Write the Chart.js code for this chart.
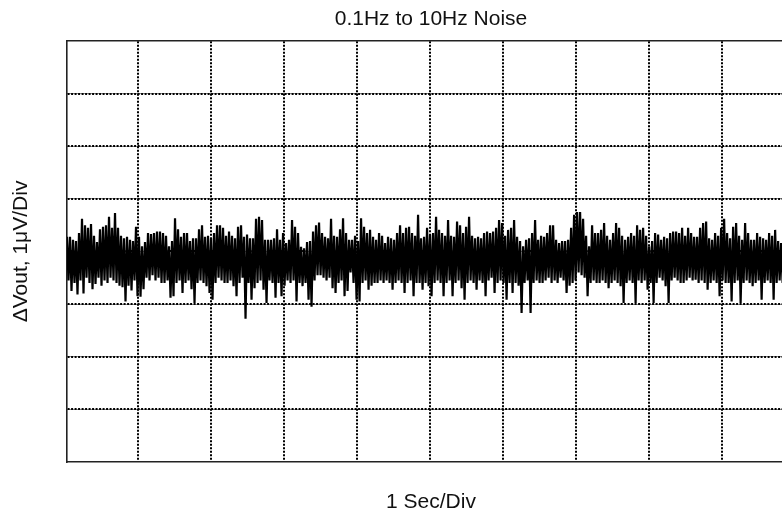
<!DOCTYPE html>
<html>
<head>
<meta charset="utf-8">
<script src="https://cdn.jsdelivr.net/npm/chart.js@4/dist/chart.umd.min.js"></script>
<style>
  html, body { margin: 0; padding: 0; background: #fff; overflow: hidden; }
  #view { width: 782px; height: 517px; overflow: hidden; position: relative; }
  #box { width: 795px; height: 517px; position: relative; }
</style>
</head>
<body>
<div id="view"><div id="box"><canvas id="noiseChart"></canvas></div></div>
<script>
const chartTitle = '0.1Hz to 10Hz Noise';
const xTitle = '1 Sec/Div';
const yTitle = '\u0394Vout, 1\u03bcV/Div';

// scope settings: 10 divisions of 1 s, 8 divisions of 1 uV
const timeMin = 0.033;
const timeMax = 10;
const voltMin = -4;
const voltMax = 4;

// trace (uV), sample spacing in seconds
const startTime = 0.033;
const sampleInterval = 0.02054;
const samples = [
  0.28,-0.55, 0.28,-0.75, 0.22,-0.6, 0.2,-0.82, 0.35,-0.55, 0.62,-0.8, 0.5,-0.5, 0.45,-0.6, 0.52,-0.72, 0.3,-0.62,
  0.18,-0.5, 0.42,-0.65, 0.47,-0.55, 0.5,-0.6, 0.66,-0.5, 0.45,-0.55, 0.73,-0.6, 0.45,-0.65, 0.3,-0.68, 0.25,-0.95,
  0.28,-0.65, 0.22,-0.74, 0.2,-0.55, 0.47,-0.85, 0.28,-0.86, 0.1,-0.72, 0.18,-0.5, 0.35,-0.55, 0.33,-0.45, 0.35,-0.55,
  0.38,-0.5, 0.38,-0.6, 0.35,-0.6, 0.3,-0.55, 0.1,-0.88, 0.2,-0.85, 0.63,-0.6, 0.42,-0.55, 0.28,-0.79, 0.35,-0.6,
  0.35,-0.55, 0.2,-0.72, 0.25,-0.98, 0.25,-0.6, 0.42,-0.55, 0.5,-0.6, 0.28,-0.66, 0.3,-0.79, 0.25,-0.92, 0.35,-0.6,
  0.5,-0.5, 0.5,-0.55, 0.45,-0.6, 0.3,-0.6, 0.38,-0.55, 0.3,-0.66, 0.25,-0.85, 0.47,-0.6, 0.5,-0.5, 0.28,-1.28,

  0.32,-0.6, 0.25,-0.92, 0.25,-0.7, 0.62,-0.6, 0.66,-0.55, 0.6,-0.73, 0.22,-0.98, 0.22,-0.55, 0.22,-0.6, 0.25,-0.88,
  0.42,-0.6, 0.22,-0.85, 0.35,-0.65, 0.16,-0.55, 0.22,-0.6, 0.6,-0.55, 0.47,-0.95, 0.35,-0.6, 0.09,-0.66, 0.06,-0.6,
  0.18,-0.92, 0.2,-1.05, 0.38,-0.55, 0.5,-0.45, 0.55,-0.45, 0.35,-0.5, 0.28,-0.55, 0.25,-0.5, 0.62,-0.7, 0.3,-0.79,
  0.28,-0.6, 0.42,-0.55, 0.63,-0.85, 0.35,-0.75, 0.22,-0.4, 0.22,-0.6, 0.3,-0.92, 0.2,-0.95, 0.63,-0.6, 0.47,-0.55,
  0.35,-0.73, 0.41,-0.65, 0.28,-0.6, 0.22,-0.6, 0.35,-0.55, 0.3,-0.6, 0.16,-0.55, 0.28,-0.6, 0.25,-0.73, 0.22,-0.6,
  0.35,-0.55, 0.5,-0.6, 0.35,-0.79, 0.45,-0.6, 0.47,-0.55, 0.35,-0.85, 0.3,-0.6, 0.7,-0.6, 0.25,-0.73, 0.28,-0.6,

  0.45,-0.66, 0.32,-0.85, 0.35,-0.6, 0.66,-0.55, 0.41,-0.6, 0.35,-0.85, 0.3,-0.6, 0.6,-0.55, 0.3,-0.85, 0.28,-0.6,
  0.57,-0.55, 0.5,-0.7, 0.35,-0.92, 0.47,-0.6, 0.66,-0.55, 0.3,-0.6, 0.25,-0.73, 0.28,-0.55, 0.25,-0.6, 0.35,-0.85,
  0.38,-0.55, 0.35,-0.5, 0.38,-0.79, 0.45,-0.6, 0.6,-0.55, 0.54,-0.6, 0.3,-0.92, 0.41,-0.6, 0.45,-0.79, 0.6,-0.6,
  0.28,-0.65, 0.2,-1.17, 0.1,-0.6, 0.22,-0.55, 0.25,-1.17, 0.35,-0.6, 0.6,-0.55, 0.22,-0.6, 0.3,-0.6, 0.28,-0.55,
  0.35,-0.5, 0.5,-0.6, 0.5,-0.55, 0.22,-0.6, 0.16,-0.5, 0.2,-0.55, 0.2,-0.79, 0.22,-0.65, 0.45,-0.6, 0.7,-0.55,
  0.75,-0.4, 0.75,-0.45, 0.62,-0.5, 0.3,-0.85, 0.1,-0.6, 0.5,-0.55, 0.35,-0.6, 0.35,-0.6, 0.41,-0.55, 0.54,-0.6,

  0.3,-0.7, 0.22,-0.6, 0.35,-0.55, 0.54,-0.6, 0.45,-0.66, 0.3,-0.98, 0.22,-0.6, 0.28,-0.55, 0.35,-0.6, 0.3,-0.98,
  0.5,-0.55, 0.41,-0.6, 0.45,-0.55, 0.3,-0.73, 0.1,-0.6, 0.2,-0.98, 0.35,-0.6, 0.32,-0.5, 0.22,-0.55, 0.28,-0.66,
  0.25,-0.98, 0.35,-0.55, 0.38,-0.5, 0.38,-0.55, 0.35,-0.6, 0.45,-0.6, 0.3,-0.55, 0.45,-0.5, 0.35,-0.55, 0.28,-0.54,
  0.28,-0.6, 0.45,-0.55, 0.54,-0.6, 0.57,-0.73, 0.25,-0.6, 0.22,-0.55, 0.35,-0.6, 0.3,-0.85, 0.45,-0.55, 0.62,-0.6,
  0.35,-0.6, 0.25,-0.95, 0.47,-0.6, 0.54,-0.55, 0.3,-0.98, 0.22,-0.6, 0.54,-0.55, 0.35,-0.6, 0.22,-0.66, 0.22,-0.6,
  0.35,-0.55, 0.28,-0.92, 0.25,-0.6, 0.22,-0.55, 0.35,-0.6, 0.3,-0.92, 0.41,-0.6, 0.2,-0.55, 0.16,-0.6
];

const font = { family: 'Arial, "Liberation Sans", sans-serif', size: 21 };
const dots = [2, 1.5];

// only the inner divisions get dotted lines, the frame is solid
function innerLine(min, max, color) {
  return ctx => {
    const v = ctx.tick ? ctx.tick.value : null;
    if (v === null || Math.abs(v - Math.round(v)) > 1e-6) return 'rgba(0,0,0,0)';
    return (v > min && v < max) ? color : 'rgba(0,0,0,0)';
  };
}

const points = samples.map((v, i) => ({ x: startTime + i * sampleInterval, y: v }));

new Chart(document.getElementById('noiseChart').getContext('2d'), {
  type: 'line',
  data: {
    datasets: [{
      data: points,
      borderColor: '#000',
      borderWidth: 2.2,
      borderJoinStyle: 'miter',
      pointRadius: 0,
      tension: 0,
      fill: false
    }]
  },
  options: {
    responsive: true,
    maintainAspectRatio: false,
    animation: false,
    events: [],
    layout: { padding: 0 },
    plugins: {
      legend: { display: false },
      tooltip: { enabled: false },
      title: {
        display: true,
        text: chartTitle,
        fullSize: false,
        color: '#111',
        font: { ...font, weight: 'normal' },
        padding: { top: 7, bottom: 9 }
      }
    },
    scales: {
      x: {
        type: 'linear',
        position: 'bottom',
        min: timeMin,
        max: timeMax,
        ticks: { display: false, stepSize: 1 },
        grid: { color: innerLine(timeMin, timeMax, '#000'), lineWidth: 2, drawTicks: false },
        border: { display: true, color: '#222', width: 1.6, dash: dots },
        title: { display: true, text: xTitle, color: '#111', font: font, padding: { top: 0, bottom: 2 } },
        afterFit: s => { s.height = 55.3; }
      },
      xTop: {
        type: 'linear',
        position: 'top',
        min: 0,
        max: 1,
        ticks: { display: false },
        grid: { display: false, drawTicks: false },
        border: { display: true, color: '#222', width: 1.6 },
        afterFit: s => { s.height = 0; }
      },
      y: {
        type: 'linear',
        position: 'left',
        min: voltMin,
        max: voltMax,
        ticks: { display: false, stepSize: 1 },
        grid: { color: innerLine(voltMin, voltMax, '#000'), lineWidth: 2, drawTicks: false },
        border: { display: true, color: '#222', width: 1.6, dash: dots },
        title: { display: true, text: yTitle, color: '#111', font: font, padding: { top: 9, bottom: 0 } },
        afterFit: s => { s.width = 67; }
      },
      yShade: {
        type: 'linear',
        position: 'right',
        min: voltMin,
        max: voltMax,
        ticks: { display: false, stepSize: 1 },
        grid: { color: innerLine(voltMin, voltMax, '#8c8c8c'), lineWidth: 1, drawTicks: false, z: -2 },
        border: { display: false },
        afterFit: s => { s.width = 0; }
      }
    }
  }
});
</script>
</body>
</html>
